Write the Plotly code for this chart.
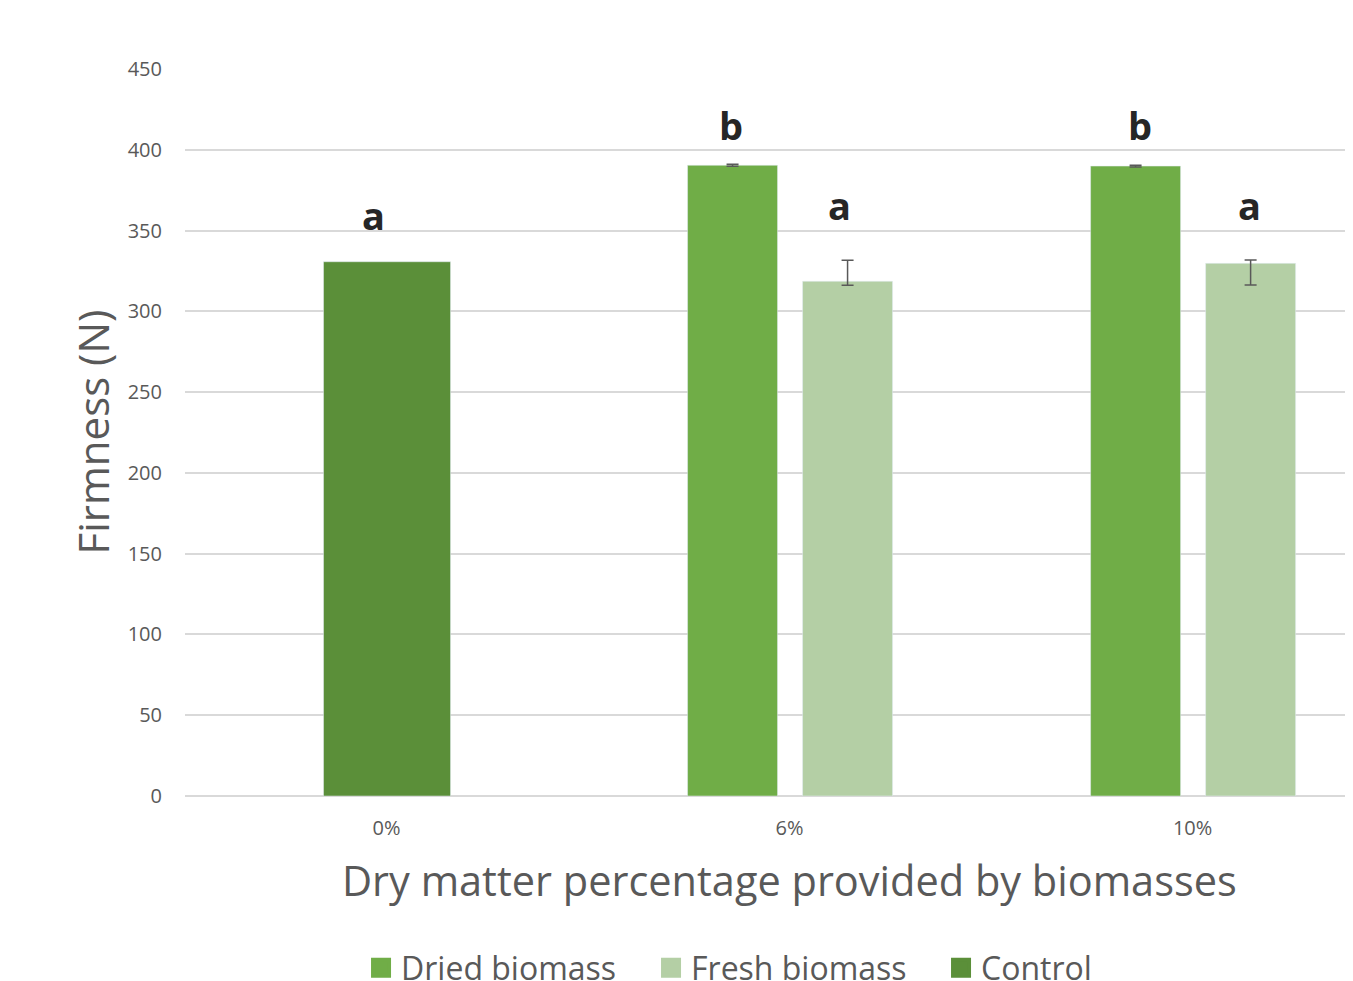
import plotly.graph_objects as go

categories = ["0%", "6%", "10%"]

dried_x = ["6%", "10%"]
dried_y = [390.4, 389.9]
dried_err_plus = [0.6, 0.6]
dried_err_minus = [0.6, 0.6]

fresh_x = ["6%", "10%"]
fresh_y = [318.6, 329.7]
fresh_err_plus = [13.0, 2.0]
fresh_err_minus = [2.5, 13.4]

control_x = ["0%"]
control_y = [330.7]

# significance letters and their estimated label heights (N)
letters = ["a", "b", "a", "b", "a"]
letter_cat = ["0%", "6%", "6%", "10%", "10%"]
letter_series = ["control", "dried", "fresh", "dried", "fresh"]
letter_y = [359.5, 415.5, 366.0, 415.5, 366.0]
letter_dx = [-0.033, -0.005, -0.02, 0.012, -0.003]

y_ticks = [0, 50, 100, 150, 200, 250, 300, 350, 400, 450]

C_DRIED = "#70AD47"
C_FRESH = "#B4CFA5"
C_CTRL = "#5B8F39"
GRAY = "#595959"
FONT = "Open Sans, Noto Sans, sans-serif"

# geometry (category units)
W_SMALL = 0.2233
W_CTRL = 0.3151
OFF_DRIED = -0.2531
OFF_FRESH = 0.0323
OFF_CTRL = -0.1563
series_center = {
    "dried": OFF_DRIED + W_SMALL / 2,
    "fresh": OFF_FRESH + W_SMALL / 2,
    "control": OFF_CTRL + W_CTRL / 2,
}

fig = go.Figure()
fig.add_trace(go.Bar(
    x=dried_x, y=dried_y, name="Dried biomass", marker_color=C_DRIED,
    width=W_SMALL, offset=OFF_DRIED, showlegend=False,
    error_y=dict(type="data", symmetric=False, array=dried_err_plus,
                 arrayminus=dried_err_minus, color=GRAY, thickness=1.5, width=6),
))
fig.add_trace(go.Bar(
    x=fresh_x, y=fresh_y, name="Fresh biomass", marker_color=C_FRESH,
    width=W_SMALL, offset=OFF_FRESH, showlegend=False,
    error_y=dict(type="data", symmetric=False, array=fresh_err_plus,
                 arrayminus=fresh_err_minus, color=GRAY, thickness=1.5, width=6),
))
fig.add_trace(go.Bar(
    x=control_x, y=control_y, name="Control", marker_color=C_CTRL,
    width=W_CTRL, offset=OFF_CTRL, showlegend=False,
))

# legend entries
for name, col in [("Dried biomass", C_DRIED), ("Fresh biomass", C_FRESH), ("Control", C_CTRL)]:
    fig.add_trace(go.Scatter(
        x=[None], y=[None], mode="markers", name=name,
        marker=dict(symbol="square", size=16, color=col, line=dict(color=col, width=4)),
    ))

annotations = []
for lt, cat, ser, ly, dx in zip(letters, letter_cat, letter_series, letter_y, letter_dx):
    xi = categories.index(cat) + series_center[ser] + dx
    annotations.append(dict(
        x=xi, y=ly, xref="x", yref="y", text=f"<b>{lt}</b>", showarrow=False,
        font=dict(family=FONT, size=38, color="#262626"), yanchor="middle",
    ))

annotations.append(dict(
    x=1, y=-0.1155, xref="x", yref="paper", text="Dry matter percentage provided by biomasses",
    showarrow=False, font=dict(family=FONT, size=41.5, color=GRAY), yanchor="middle",
))
annotations.append(dict(
    x=0, y=0.5, xref="paper", yref="paper", xshift=-93, text="Firmness (N)", textangle=-90,
    showarrow=False, font=dict(family=FONT, size=42, color=GRAY), xanchor="center",
))

FIG_W = 1361
fig.update_layout(
    width=FIG_W, height=973,
    margin=dict(l=177, r=16, t=61, b=185, autoexpand=False),
    paper_bgcolor="white", plot_bgcolor="white",
    barmode="overlay",
    font=dict(family=FONT, color=GRAY),
    annotations=annotations,
    legend=dict(
        orientation="h", x=0.5859 * 1345 / FIG_W, xref="container", xanchor="center",
        y=-0.2366, yanchor="middle",
        font=dict(family=FONT, size=32, color=GRAY),
        entrywidth=245, itemsizing="trace",
    ),
    xaxis=dict(
        type="category", categoryorder="array", categoryarray=categories,
        range=[-0.5, 2.398], showgrid=False, showline=False, zeroline=False,
        ticks="", tickfont=dict(family=FONT, size=20, color=GRAY),
        ticklabelstandoff=18,
    ),
    yaxis=dict(
        range=[0, 450], tickvals=y_ticks, showgrid=True, gridcolor="#D9D9D9",
        gridwidth=1.5, zeroline=True, zerolinecolor="#D9D9D9", zerolinewidth=1.5,
        showline=False, ticks="", tickfont=dict(family=FONT, size=20, color=GRAY),
        ticklabelstandoff=22,
    ),
)

fig.write_html("out.html", post_script="document.documentElement.style.overflow='hidden';")
